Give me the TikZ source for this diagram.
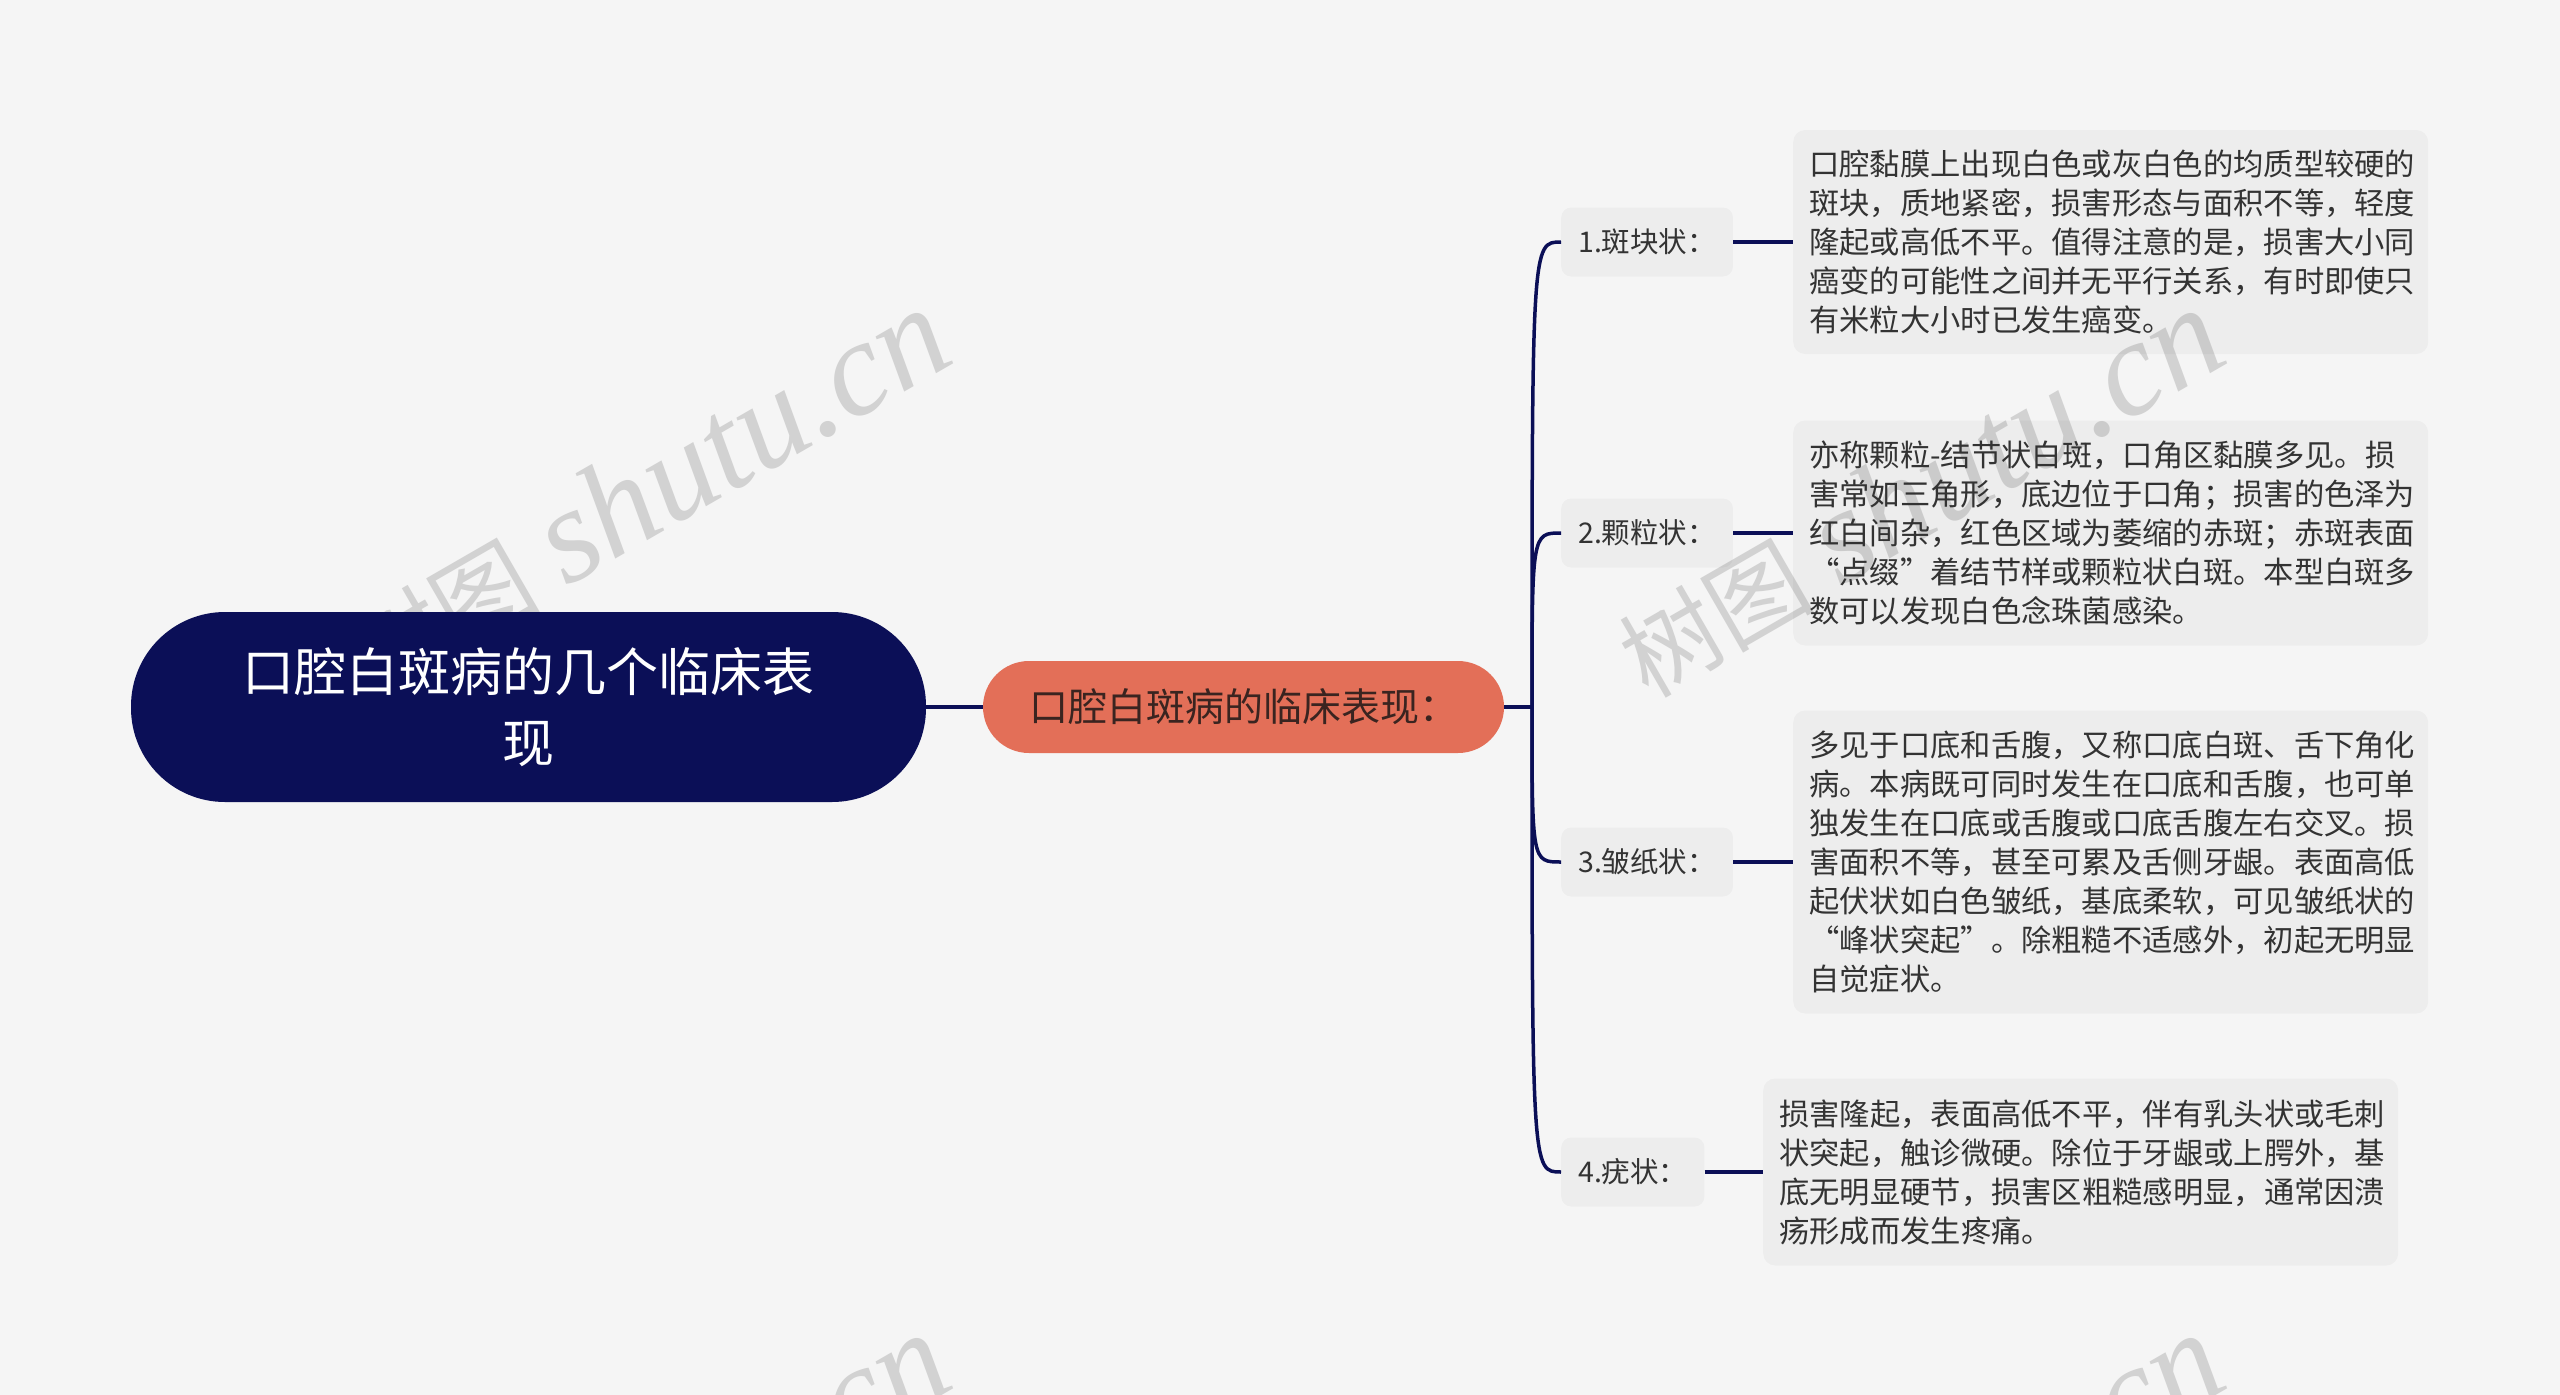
\documentclass[tikz,border=0pt]{standalone}
\usepackage{fontspec}
\setmainfont{Noto Sans CJK SC}
\newfontfamily\wmlatinfont{Liberation Serif}
\usetikzlibrary{calc}
\definecolor{bgc}{HTML}{F5F5F5}
\definecolor{navy}{HTML}{0B0F57}
\definecolor{salmon}{HTML}{E36F58}
\definecolor{txtc}{HTML}{333333}
\definecolor{midtxt}{HTML}{3A2420}
\definecolor{wmc}{HTML}{D2D2D2}
\begin{document}
\begin{tikzpicture}[x=1pt,y=-1pt,
 conn/.style={draw=navy,line width=3.5pt},
 rootbox/.style={fill=navy,text=white,rounded corners=94pt,minimum width=795pt,minimum height=190pt,inner sep=0pt,align=center,font=\fontsize{52pt}{71pt}\selectfont},
 midbox/.style={fill=salmon,text=midtxt,rounded corners=46pt,minimum width=521pt,minimum height=92pt,inner sep=0pt,font=\fontsize{39pt}{47pt}\selectfont},
 labelbox/.style={fill=black,fill opacity=0.03,text opacity=1,text=txtc,rounded corners=10pt,anchor=west,minimum height=69pt,inner xsep=17pt,inner ysep=0pt,font=\fontsize{28.5pt}{34pt}\selectfont},
 descbox/.style={fill=black,fill opacity=0.03,text opacity=1,text=txtc,rounded corners=12pt,anchor=west,minimum width=635pt,text width=603pt,inner xsep=16pt,inner ysep=0pt,align=left,font=\fontsize{30.3pt}{39pt}\selectfont},
 wmlatin/.style={text=wmc,rotate=30,anchor=base west,inner sep=0pt,font=\wmlatinfont\itshape\fontsize{135pt}{135pt}\selectfont},
 wmcjk/.style={text=wmc,rotate=30,anchor=base east,inner sep=0pt,font=\fontsize{98pt}{98pt}\selectfont},
]
\useasboundingbox (0,0) rectangle (2560,1395);
\fill[bgc] (0,0) rectangle (2560,1395);

% watermarks
\begin{scope}
\clip (0,0) rectangle (2560,1395);
\foreach \dx/\dy [count=\i] in {0/0,1274/0,0/1025,1274/1025} {
  \node[wmlatin] (wml\i) at (566+\dx,588+\dy) {shutu.cn};
  \node[wmcjk] (wmc\i) at (544+\dx,601+\dy) {树图};
}
\end{scope}

% main nodes
\node[rootbox] (root) at (528.5,707) {口腔白斑病的几个临床表\\现};
\node[midbox] (mid) at (1243.5,707) {口腔白斑病的临床表现：};
\coordinate (J) at (1532,707);

\node[labelbox] (l1) at (1561,242) {1.斑块状：};
\node[labelbox] (l2) at (1561,533) {2.颗粒状：};
\node[labelbox] (l3) at (1561,862) {3.皱纸状：};
\node[labelbox] (l4) at (1561,1172) {4.疣状：};

\node[descbox,minimum height=224pt] (d1) at (1793,242) {口腔黏膜上出现白色或灰白色的均质型较硬的\\斑块，质地紧密，损害形态与面积不等，轻度\\隆起或高低不平。值得注意的是，损害大小同\\癌变的可能性之间并无平行关系，有时即使只\\有米粒大小时已发生癌变。};
\node[descbox,minimum height=225pt] (d2) at (1793,533) {亦称颗粒-结节状白斑，口角区黏膜多见。损\\害常如三角形，底边位于口角；损害的色泽为\\红白间杂，红色区域为萎缩的赤斑；赤斑表面\\“点缀”着结节样或颗粒状白斑。本型白斑多\\数可以发现白色念珠菌感染。};
\node[descbox,minimum height=303pt] (d3) at (1793,862) {多见于口底和舌腹，又称口底白斑、舌下角化\\病。本病既可同时发生在口底和舌腹，也可单\\独发生在口底或舌腹或口底舌腹左右交叉。损\\害面积不等，甚至可累及舌侧牙龈。表面高低\\起伏状如白色皱纸，基底柔软，可见皱纸状的\\“峰状突起”。除粗糙不适感外，初起无明显\\自觉症状。};
\node[descbox,minimum height=187pt] (d4) at (1763,1172) {损害隆起，表面高低不平，伴有乳头状或毛刺\\状突起，触诊微硬。除位于牙龈或上腭外，基\\底无明显硬节，损害区粗糙感明显，通常因溃\\疡形成而发生疼痛。};

% connectors
\draw[conn,line width=4pt] (root.east) -- (mid.west);
\draw[conn,line width=4pt] (mid.east) -- (J);
\foreach \l in {l1,l2,l3,l4}
  \draw[conn] (J) .. controls (J |- \l.west) .. (\l.west);
\foreach \i in {1,2,3,4}
  \draw[conn,line width=4pt] (l\i.east) -- (d\i.west);
\end{tikzpicture}
\end{document}
